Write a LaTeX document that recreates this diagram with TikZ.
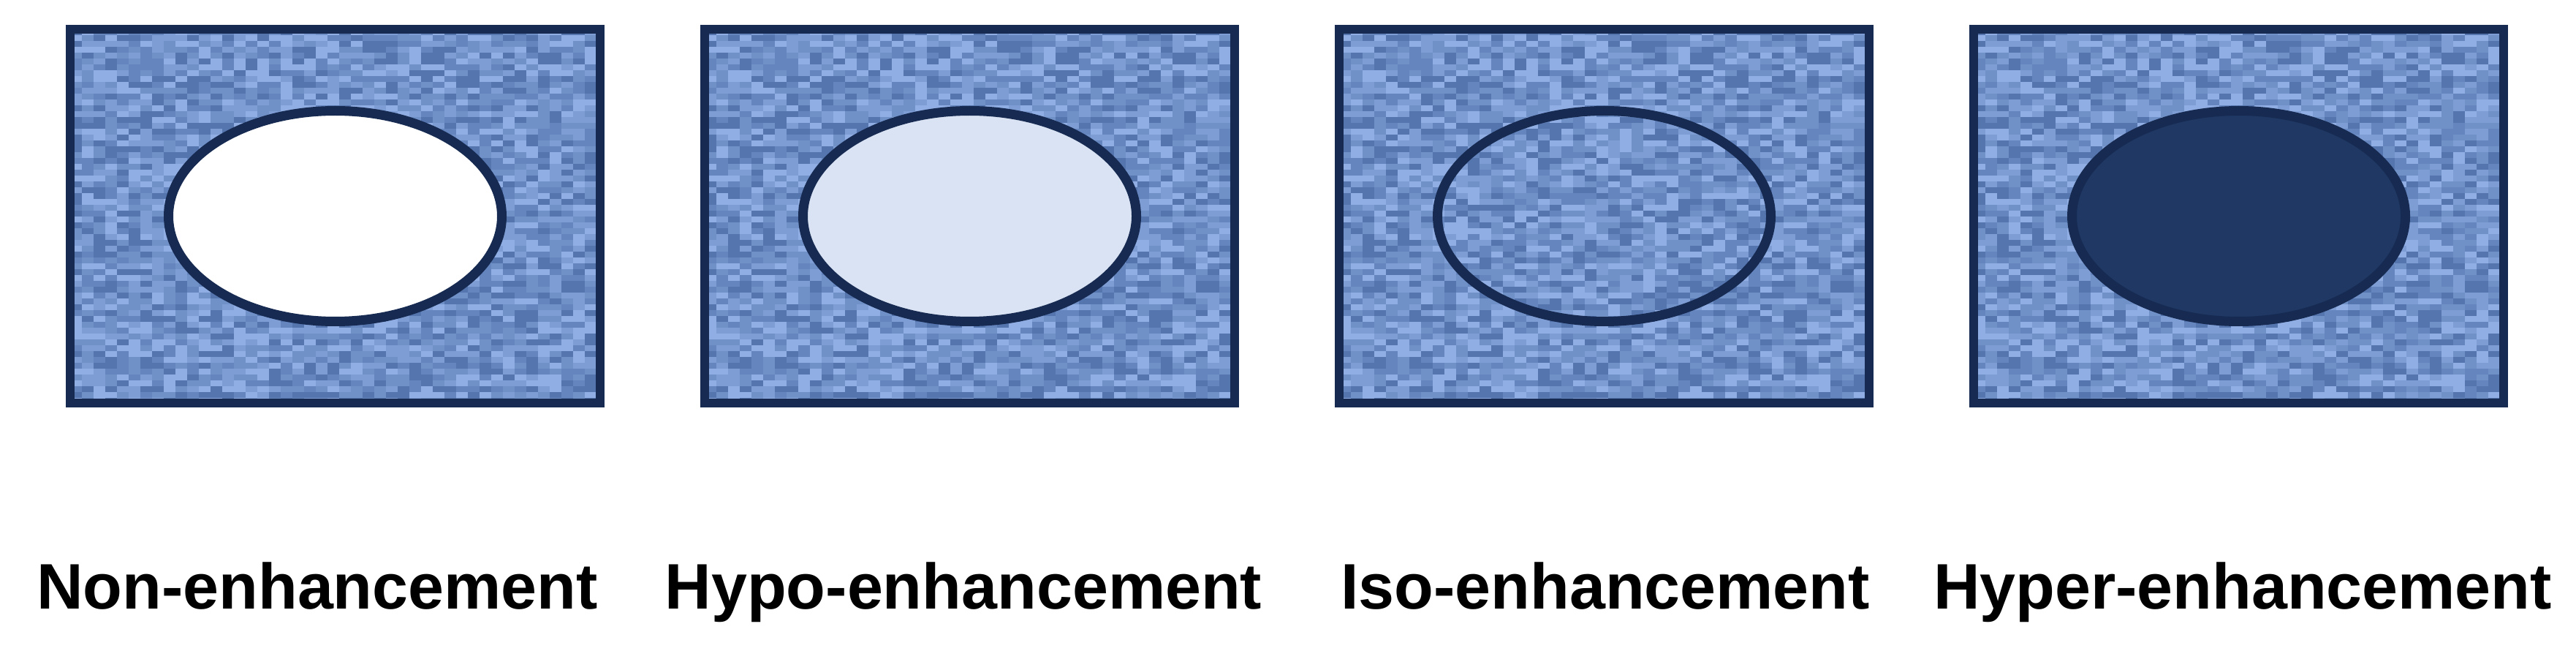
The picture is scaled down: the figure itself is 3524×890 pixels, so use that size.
\documentclass[tikz,border=0pt]{standalone}
\usepackage{fontspec}
\setmainfont{Liberation Sans}
\usetikzlibrary{shapes.geometric}
\definecolor{navy}{HTML}{172B52}
\definecolor{darkfill}{HTML}{1F3864}
\definecolor{lightfill}{HTML}{DAE3F3}
\definecolor{tex0}{HTML}{5575AF}
\definecolor{tex1}{HTML}{6585BF}
\definecolor{tex2}{HTML}{7090C8}
\definecolor{tex3}{HTML}{7E9DD4}
\definecolor{tex4}{HTML}{90AEE3}
\newcommand\noisefill[1]{%
  \begin{scope}
    \clip (#1+6,40) rectangle (#1+731,551);
    \fill[tex2] (#1+6,40) rectangle (#1+731,551);
    \pgfmathsetseed{12345}
    \foreach \j in {0,...,63}{
      \foreach \i in {0,...,45}{
        \pgfmathrandominteger{\r}{0}{4}
        \ifnum\r=2\else\fill[tex\r] ({#1+6+\i*16},{40+\j*8}) rectangle ++(16,8);\fi
      }}
  \end{scope}}
\begin{document}
\begin{tikzpicture}[x=1pt,y=-1pt,
  panel/.style={draw=navy, line width=12pt, rectangle, minimum width=725pt, minimum height=511pt, inner sep=0pt},
  lesion/.style={draw=navy, line width=13pt, ellipse, minimum width=456pt, minimum height=288pt, inner sep=0pt},
  lab/.style={font=\fontsize{88}{100}\selectfont\bfseries, inner sep=0pt, anchor=base}]
\useasboundingbox (0,0) rectangle (3524,890);
\noisefill{90}
\noisefill{958}
\noisefill{1826}
\noisefill{2694}
\node[panel] (b1) at (458.5,295.5) {};
\node[panel] (b2) at (1326.5,295.5) {};
\node[panel] (b3) at (2194.5,295.5) {};
\node[panel] (b4) at (3062.5,295.5) {};
\node[lesion, fill=white] (e1) at (b1.center) {};
\node[lesion, fill=lightfill] (e2) at (b2.center) {};
\node[lesion] (e3) at (b3.center) {};
\node[lesion, fill=darkfill] (e4) at (b4.center) {};
\node[lab] (l1) at (434,832) {Non-enhancement};
\node[lab] (l2) at (1318,832) {Hypo-enhancement};
\node[lab] (l3) at (2196,832) {Iso-enhancement};
\node[lab] (l4) at (3068,832) {Hyper-enhancement};
\end{tikzpicture}
\end{document}
